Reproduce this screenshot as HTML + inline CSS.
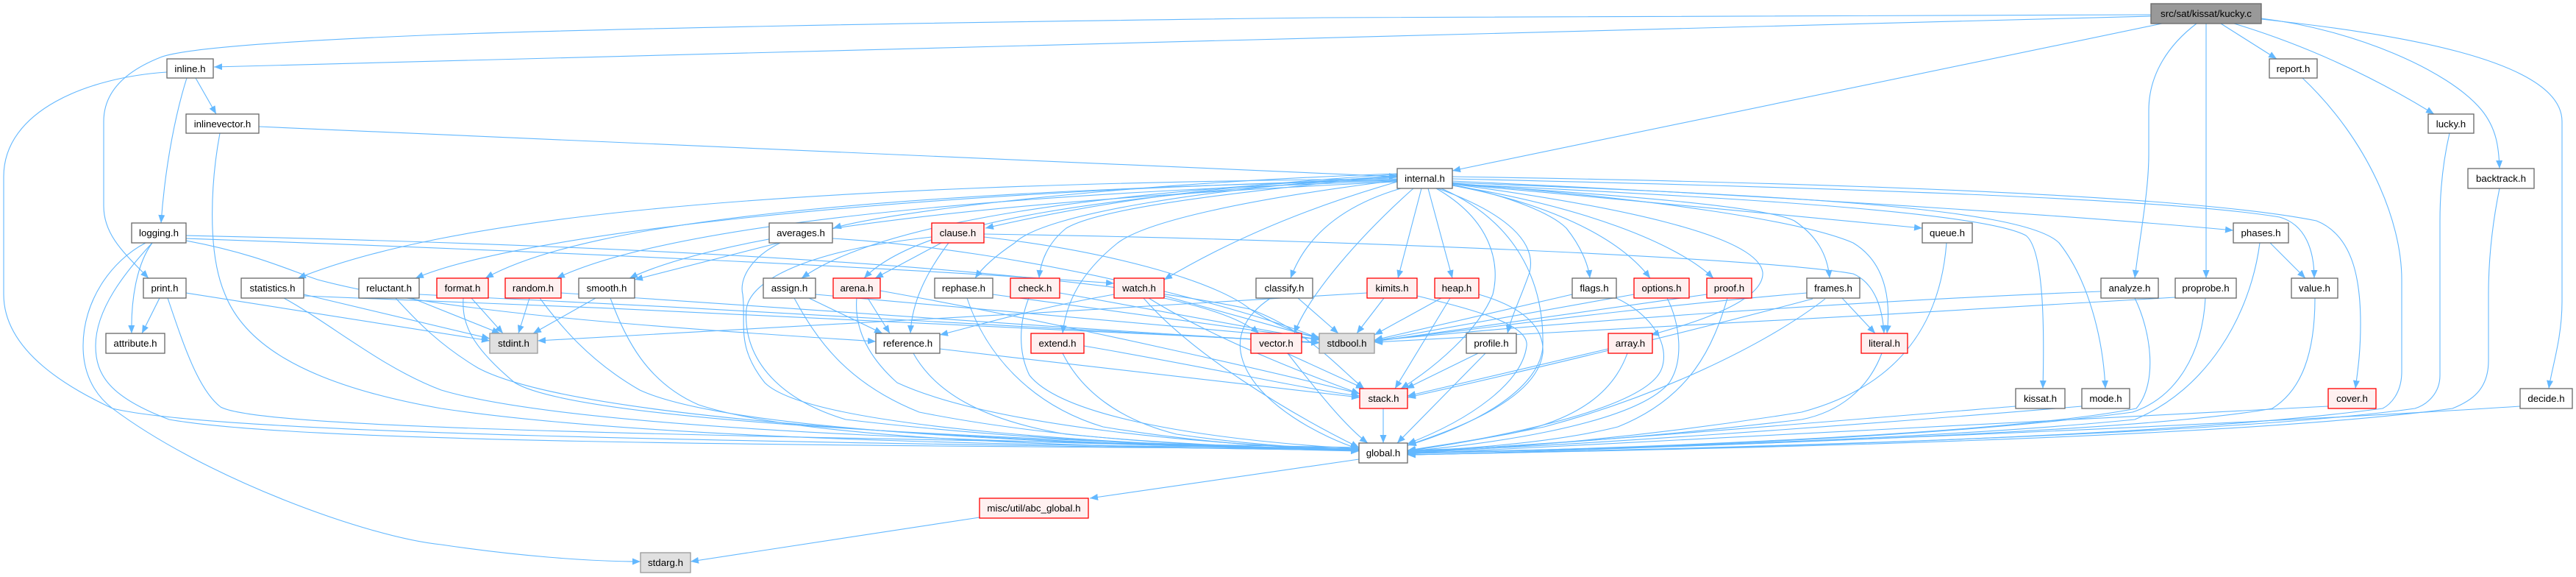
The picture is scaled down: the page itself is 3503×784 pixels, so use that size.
<!DOCTYPE html>
<html><head><meta charset="utf-8">
<style>
html,body{margin:0;padding:0;background:#fff;}
svg{display:block;}
text{font-family:"Liberation Sans",Arial,sans-serif;font-size:13.3px;fill:#000;text-anchor:middle;}
.e{fill:none;stroke:#63b8ff;stroke-width:1.1;marker-end:url(#ah);}
.n{fill:#fff;stroke:#666;stroke-width:1.3;}
.r{fill:#fff0f0;stroke:#ff0000;stroke-width:1.3;}
.g{fill:#e0e0e0;stroke:#999;stroke-width:1.3;}
.m{fill:#999;stroke:#666;stroke-width:1.3;}
</style></head><body>
<svg width="3503" height="784" viewBox="0 0 3503 784" xmlns="http://www.w3.org/2000/svg">
<defs>
<marker id="ah" markerUnits="userSpaceOnUse" markerWidth="12" markerHeight="10" refX="11" refY="4.5" orient="auto">
<path d="M0,0 L11,4.5 L0,9 z" fill="#63b8ff"/>
</marker>
</defs>

<!-- kucky.c edges -->
<path class="e" d="M2925,22 L291,91"/>
<path class="e" d="M2925,20 L1800,24 C1200,31 800,40 600,47 C400,55 250,65 218,78 C170,97 141,125 141,165 L141,280 C141,320 170,345 202,378"/>
<path class="e" d="M2940,32 L1975,232"/>
<path class="e" d="M2987,32 C2950,60 2922,100 2922,150 L2922,210 C2922,260 2910,320 2903,378"/>
<path class="e" d="M3000,32 L3000,378"/>
<path class="e" d="M3020,32 L3096,80"/>
<path class="e" d="M3038,32 Q3180,75 3310,155"/>
<path class="e" d="M3075,25 C3200,40 3330,95 3375,150 C3395,175 3398,200 3399,229"/>
<path class="e" d="M3075,26 C3250,45 3484,80 3484,165 L3484,410 C3484,460 3470,500 3466,528"/>

<!-- inline.h -->
<path class="e" d="M254,106 C240,150 225,220 219,303"/>
<path class="e" d="M266,106 L294,155"/>
<path class="e" d="M227,98 C120,105 5,150 5,240 L5,400 C5,480 100,530 153,555 C300,590 1000,600 1848,612"/>

<!-- inlinevector.h -->
<path class="e" d="M352,172 L1900,240"/>
<path class="e" d="M299,181 C288,240 280,340 306,400 C330,460 400,520 600,555 C900,600 1500,608 1848,608"/>

<!-- logging.h -->
<path class="e" d="M207,330 C185,360 178,410 179,453"/>
<path class="e" d="M198,330 C150,355 113,410 113,470 C113,520 140,545 153,555 C280,650 500,730 600,740 C700,755 800,763 871,763"/>
<path class="e" d="M207,330 C170,370 130,420 130,470 C130,510 150,540 230,570 C400,600 1000,605 1848,610"/>
<path class="e" d="M253,327 C350,345 400,370 432,380 C600,425 900,445 1191,464"/>
<path class="e" d="M253,324 C700,340 1200,362 1515,385"/>
<path class="e" d="M253,320 C800,332 1400,358 1700,420 C1780,450 1820,500 1855,528"/>

<!-- print.h -->
<path class="e" d="M217,405 L193,453"/>
<path class="e" d="M228,405 C250,470 270,530 300,553 C350,580 800,590 1848,608"/>
<path class="e" d="M253,398 L666,463"/>

<!-- internal.h -> left side -->
<path class="e" d="M1900,243 C1000,250 600,300 405,378"/>
<path class="e" d="M1900,244 C1200,260 700,320 565,378"/>
<path class="e" d="M1900,245 C1200,260 800,300 660,378"/>
<path class="e" d="M1900,246 C1300,265 900,310 757,378"/>
<path class="e" d="M1900,247 C1400,270 1000,310 856,378"/>
<path class="e" d="M1900,236 C1500,250 1200,290 1133,310"/>
<path class="e" d="M1900,237 C1600,255 1450,285 1340,310"/>
<path class="e" d="M1900,240 C1500,260 1200,300 1090,378"/>
<path class="e" d="M1900,241 C1500,265 1250,300 1175,378"/>
<path class="e" d="M1900,239 C1650,255 1420,290 1380,330 C1350,350 1335,365 1326,378"/>
<path class="e" d="M1900,238 C1700,260 1500,280 1450,310 C1425,330 1415,355 1413,378"/>
<path class="e" d="M1900,247 C1750,290 1650,340 1583,380"/>
<path class="e" d="M1900,245 C1700,270 1560,300 1520,330 C1470,370 1450,410 1445,453"/>
<path class="e" d="M1905,256 C1840,275 1780,310 1755,378"/>
<path class="e" d="M1922,256 C1850,320 1780,400 1760,453"/>
<!-- internal.h -> bottom -->
<path class="e" d="M1933,256 L1901,378"/>
<path class="e" d="M1942,256 L1975,378"/>
<path class="e" d="M1955,256 C2050,290 2090,330 2080,370 C2070,400 2055,430 2050,453"/>
<path class="e" d="M1953,256 C2030,300 2040,360 2030,400 C2010,450 1950,500 1905,528"/>
<path class="e" d="M1960,256 C2060,300 2100,380 2098,470 C2095,530 2000,580 1915,605"/>
<!-- internal.h -> right side -->
<path class="e" d="M1975,251 C2050,265 2110,290 2130,310 C2150,335 2160,360 2162,378"/>
<path class="e" d="M1975,252 C2100,275 2200,320 2244,378"/>
<path class="e" d="M1975,252 C2150,280 2280,330 2330,378"/>
<path class="e" d="M1975,250 C2200,280 2390,320 2397,370 C2400,410 2300,440 2245,455"/>
<path class="e" d="M1975,250 C2200,265 2400,280 2440,300 C2470,320 2485,345 2488,378"/>
<path class="e" d="M1975,249 C2250,270 2450,300 2520,330 C2570,360 2570,420 2566,453"/>
<path class="e" d="M1975,250 C2200,270 2450,295 2614,310"/>
<path class="e" d="M1975,250 C2400,270 2700,290 2755,320 C2780,340 2780,450 2778,528"/>
<path class="e" d="M1975,248 C2400,265 2750,280 2800,330 C2840,380 2860,460 2863,528"/>
<path class="e" d="M1975,246 C2500,270 2900,300 3037,313"/>
<path class="e" d="M1975,243 C2500,255 2950,270 3100,295 C3135,305 3147,340 3147,378"/>
<path class="e" d="M1975,240 C2600,250 3000,270 3150,300 C3200,320 3210,380 3210,440 C3210,480 3206,505 3203,528"/>

<!-- statistics / reluctant / format / random / smooth -->
<path class="e" d="M386,405 C450,440 520,500 600,530 C800,590 1500,605 1848,610"/>
<path class="e" d="M413,400 L666,460"/>
<path class="e" d="M413,402 C900,420 1500,450 1794,465"/>
<path class="e" d="M538,405 C570,440 600,470 650,500 C800,580 1500,605 1848,612"/>
<path class="e" d="M560,405 L680,453"/>
<path class="e" d="M570,400 C1000,420 1500,450 1794,466"/>
<path class="e" d="M641,405 L684,453"/>
<path class="e" d="M630,405 C628,440 640,470 700,520 C800,580 1500,600 1848,612"/>
<path class="e" d="M720,405 L705,453"/>
<path class="e" d="M734,405 C760,440 800,490 870,530 C1000,590 1500,605 1848,612"/>
<path class="e" d="M763,398 C1100,420 1500,450 1794,466"/>
<path class="e" d="M810,405 L725,453"/>
<path class="e" d="M830,405 C850,460 880,520 950,550 C1100,600 1500,608 1848,612"/>

<!-- averages / clause -->
<path class="e" d="M1059,330 L863,380"/>
<path class="e" d="M1061,330 C1020,350 1005,380 1010,400 C1015,440 1000,470 1040,520 C1100,580 1500,605 1848,612"/>
<path class="e" d="M1132,324 C1400,340 1700,420 1794,460"/>
<path class="e" d="M1280,330 L1190,378"/>
<path class="e" d="M1290,330 C1260,370 1240,410 1238,453"/>
<path class="e" d="M1338,318 C1800,325 2400,350 2520,372 C2550,385 2560,420 2562,453"/>
<path class="e" d="M1338,322 C1500,340 1650,380 1700,420 C1740,445 1770,455 1794,458"/>
<path class="e" d="M1267,322 C1100,340 1020,380 1015,420 C1010,480 1050,540 1150,570 C1400,600 1700,610 1848,613"/>

<!-- queue / phases / value / cover -->
<path class="e" d="M2647,330 C2640,420 2600,520 2450,560 C2200,600 2000,612 1914,615"/>
<path class="e" d="M3087,330 L3135,378"/>
<path class="e" d="M3073,330 C3060,430 3000,530 2903,570 C2600,600 2100,612 1914,615"/>
<path class="e" d="M3148,405 C3148,480 3130,530 3090,555 C2900,590 2200,610 1914,616"/>
<path class="e" d="M3166,552 L1914,617"/>
<path class="e" d="M3427,552 C3000,580 2200,612 1914,618"/>
<path class="e" d="M3399,256 C3390,300 3384,350 3384,400 L3384,490 C3384,530 3360,545 3335,555 C3000,600 2200,612 1914,618"/>
<path class="e" d="M3331,181 C3322,220 3318,260 3318,300 L3318,510 C3318,535 3300,550 3284,555 C3000,595 2200,612 1914,618"/>
<path class="e" d="M3131,106 C3220,190 3266,300 3266,380 L3266,505 C3266,535 3250,550 3240,555 C2900,600 2200,612 1914,618"/>
<path class="e" d="M2999,405 C2995,480 2960,540 2900,560 C2600,600 2100,612 1914,616"/>
<path class="e" d="M2958,404 C2600,425 2100,455 1869,465"/>
<path class="e" d="M2903,405 C2925,450 2935,520 2905,555 C2700,595 2100,612 1914,616"/>
<path class="e" d="M2857,396 C2500,410 2100,440 1869,463"/>
<path class="e" d="M2741,552 C2400,580 2100,605 1914,614"/>
<path class="e" d="M2831,552 C2500,580 2100,608 1914,614"/>

<!-- frames / flags / options / proof / array / literal / profile -->
<path class="e" d="M2505,405 L2550,453"/>
<path class="e" d="M2457,398 C2200,420 1950,455 1869,463"/>
<path class="e" d="M2465,406 C2300,450 2050,510 1914,540"/>
<path class="e" d="M2482,406 C2400,470 2250,540 2100,580 C2000,600 1950,608 1914,612"/>
<path class="e" d="M2138,400 L1869,462"/>
<path class="e" d="M2198,405 C2250,430 2270,470 2260,500 C2240,560 2000,600 1914,613"/>
<path class="e" d="M2222,400 L1869,463"/>
<path class="e" d="M2267,405 C2285,440 2290,490 2270,520 C2220,580 2000,606 1914,613"/>
<path class="e" d="M2321,400 L1869,464"/>
<path class="e" d="M2349,405 C2330,470 2300,540 2200,580 C2100,605 1950,612 1914,613"/>
<path class="e" d="M2187,474 L1914,538"/>
<path class="e" d="M2213,480 C2195,530 2150,570 2050,590 C1980,602 1940,608 1914,612"/>
<path class="e" d="M2559,480 C2540,530 2500,560 2450,570 C2200,600 2000,610 1914,612"/>
<path class="e" d="M2010,480 L1912,528"/>
<path class="e" d="M2020,480 L1900,602"/>

<!-- kimits / heap / classify / vector -->
<path class="e" d="M1882,405 L1845,453"/>
<path class="e" d="M1927,402 C2000,420 2080,440 2076,470 C2070,520 2000,570 1914,603"/>
<path class="e" d="M1859,398 C1500,420 1000,450 731,463"/>
<path class="e" d="M1960,405 L1869,455"/>
<path class="e" d="M1972,405 L1897,528"/>
<path class="e" d="M2011,400 C2080,420 2100,450 2098,480 C2090,540 1990,580 1914,605"/>
<path class="e" d="M1765,405 L1820,453"/>
<path class="e" d="M1728,405 C1690,430 1680,460 1690,490 C1710,550 1800,595 1848,610"/>
<path class="e" d="M1750,480 L1855,528"/>
<path class="e" d="M1751,480 C1790,530 1830,580 1860,602"/>

<!-- watch / check / rephase / extend / reference / arena / assign -->
<path class="e" d="M1515,400 C1400,420 1320,445 1278,455"/>
<path class="e" d="M1583,402 L1794,460"/>
<path class="e" d="M1583,405 C1650,420 1690,435 1712,453"/>
<path class="e" d="M1562,405 C1650,460 1780,510 1849,535"/>
<path class="e" d="M1555,405 C1620,480 1750,560 1848,608"/>
<path class="e" d="M1441,398 L1794,462"/>
<path class="e" d="M1399,405 C1385,440 1385,480 1400,510 C1440,560 1600,595 1848,610"/>
<path class="e" d="M1350,400 L1794,461"/>
<path class="e" d="M1315,405 C1340,480 1400,550 1500,580 C1650,605 1780,610 1848,611"/>
<path class="e" d="M1474,470 C1650,500 1780,530 1849,538"/>
<path class="e" d="M1445,480 C1470,530 1520,570 1600,590 C1700,605 1800,610 1848,611"/>
<path class="e" d="M1278,474 C1500,500 1750,530 1849,540"/>
<path class="e" d="M1242,480 C1270,530 1330,570 1450,590 C1600,605 1780,610 1848,611"/>
<path class="e" d="M1180,405 L1210,453"/>
<path class="e" d="M1197,395 C1450,440 1750,510 1849,535"/>
<path class="e" d="M1165,405 C1162,440 1175,480 1220,520 C1350,580 1650,605 1848,611"/>
<path class="e" d="M1100,405 L1200,453"/>
<path class="e" d="M1109,400 L1794,461"/>
<path class="e" d="M1080,405 C1110,460 1150,520 1250,560 C1450,600 1700,610 1848,611"/>

<!-- stack / global / abc -->
<path class="e" d="M1881,555 L1881,602"/>
<path class="e" d="M1848,624 L1482,677"/>
<path class="e" d="M1332,703 L939,763"/>

<!-- nodes -->
<g>
<rect class="m" x="2925" y="5" width="150" height="27"/><text x="3000" y="23">src/sat/kissat/kucky.c</text>
<rect class="n" x="227" y="80" width="63" height="26"/><text x="258.5" y="98">inline.h</text>
<rect class="n" x="3086" y="80" width="65" height="26"/><text x="3118.5" y="98">report.h</text>
<rect class="n" x="253" y="155" width="99" height="26"/><text x="302.5" y="173">inlinevector.h</text>
<rect class="n" x="3302" y="155" width="62" height="26"/><text x="3333" y="173">lucky.h</text>
<rect class="n" x="1900" y="229" width="75" height="27"/><text x="1937.5" y="247">internal.h</text>
<rect class="n" x="3356" y="229" width="90" height="27"/><text x="3401" y="247">backtrack.h</text>

<rect class="n" x="179" y="303" width="74" height="27"/><text x="216" y="321">logging.h</text>
<rect class="n" x="1046" y="303" width="86" height="27"/><text x="1089" y="321">averages.h</text>
<rect class="r" x="1267" y="303" width="71" height="27"/><text x="1302.5" y="321">clause.h</text>
<rect class="n" x="2614" y="303" width="68" height="27"/><text x="2648" y="321">queue.h</text>
<rect class="n" x="3037" y="303" width="75" height="27"/><text x="3074.5" y="321">phases.h</text>

<rect class="n" x="195" y="378" width="58" height="27"/><text x="224" y="396">print.h</text>
<rect class="n" x="328" y="378" width="85" height="27"/><text x="370.5" y="396">statistics.h</text>
<rect class="n" x="488" y="378" width="82" height="27"/><text x="529" y="396">reluctant.h</text>
<rect class="r" x="594" y="378" width="70" height="27"/><text x="629" y="396">format.h</text>
<rect class="r" x="687" y="378" width="76" height="27"/><text x="725" y="396">random.h</text>
<rect class="n" x="787" y="378" width="76" height="27"/><text x="825" y="396">smooth.h</text>
<rect class="n" x="1038" y="378" width="71" height="27"/><text x="1073.5" y="396">assign.h</text>
<rect class="r" x="1133" y="378" width="64" height="27"/><text x="1165" y="396">arena.h</text>
<rect class="n" x="1271" y="378" width="79" height="27"/><text x="1310.5" y="396">rephase.h</text>
<rect class="r" x="1374" y="378" width="67" height="27"/><text x="1407.5" y="396">check.h</text>
<rect class="r" x="1515" y="378" width="68" height="27"/><text x="1549" y="396">watch.h</text>
<rect class="n" x="1708" y="378" width="77" height="27"/><text x="1746.5" y="396">classify.h</text>
<rect class="r" x="1859" y="378" width="68" height="27"/><text x="1893" y="396">kimits.h</text>
<rect class="r" x="1951" y="378" width="60" height="27"/><text x="1981" y="396">heap.h</text>
<rect class="n" x="2138" y="378" width="60" height="27"/><text x="2168" y="396">flags.h</text>
<rect class="r" x="2222" y="378" width="75" height="27"/><text x="2259.5" y="396">options.h</text>
<rect class="r" x="2321" y="378" width="61" height="27"/><text x="2351.5" y="396">proof.h</text>
<rect class="n" x="2457" y="378" width="72" height="27"/><text x="2493" y="396">frames.h</text>
<rect class="n" x="2857" y="378" width="78" height="27"/><text x="2896" y="396">analyze.h</text>
<rect class="n" x="2958" y="378" width="83" height="27"/><text x="2999.5" y="396">proprobe.h</text>
<rect class="n" x="3116" y="378" width="63" height="27"/><text x="3147.5" y="396">value.h</text>

<rect class="n" x="144" y="453" width="80" height="27"/><text x="184" y="471">attribute.h</text>
<rect class="g" x="666" y="453" width="65" height="27"/><text x="698.5" y="471">stdint.h</text>
<rect class="n" x="1191" y="453" width="87" height="27"/><text x="1234.5" y="471">reference.h</text>
<rect class="r" x="1402" y="453" width="72" height="27"/><text x="1438" y="471">extend.h</text>
<rect class="r" x="1701" y="453" width="69" height="27"/><text x="1735.5" y="471">vector.h</text>
<rect class="g" x="1794" y="453" width="75" height="27"/><text x="1831.5" y="471">stdbool.h</text>
<rect class="n" x="1994" y="453" width="68" height="27"/><text x="2028" y="471">profile.h</text>
<rect class="r" x="2187" y="453" width="60" height="27"/><text x="2217" y="471">array.h</text>
<rect class="r" x="2531" y="453" width="63" height="27"/><text x="2562.5" y="471">literal.h</text>

<rect class="r" x="1849" y="528" width="65" height="27"/><text x="1881.5" y="546">stack.h</text>
<rect class="n" x="2741" y="528" width="67" height="27"/><text x="2774.5" y="546">kissat.h</text>
<rect class="n" x="2831" y="528" width="65" height="27"/><text x="2863.5" y="546">mode.h</text>
<rect class="r" x="3166" y="528" width="65" height="27"/><text x="3198.5" y="546">cover.h</text>
<rect class="n" x="3427" y="528" width="71" height="27"/><text x="3462.5" y="546">decide.h</text>

<rect class="n" x="1848" y="602" width="66" height="27"/><text x="1881" y="620">global.h</text>
<rect class="r" x="1332" y="677" width="148" height="27"/><text x="1406" y="695">misc/util/abc_global.h</text>
<rect class="g" x="871" y="751" width="68" height="27"/><text x="905" y="769">stdarg.h</text>
</g>
</svg>
</body></html>
